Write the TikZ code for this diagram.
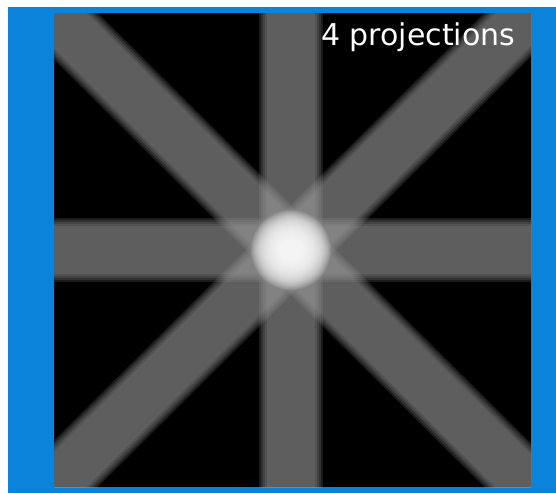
\documentclass[tikz,border=0pt]{standalone}
\usepackage{fontspec}
\newfontfamily\labelfont{DejaVu Sans}
\definecolor{frameblue}{RGB}{10,132,218}
\definecolor{bargray}{gray}{0.6}
\begin{document}
\begin{tikzpicture}[x=1pt,y=-1pt,
  bar/.style={draw=bargray, draw opacity=0.18, line cap=butt},
  glow/.style={fill=white, fill opacity=0.09}]
\useasboundingbox (0,0) rectangle (556,493);
\fill[white] (0,0) rectangle (556,493);
\fill[frameblue] (8,7) rectangle (556,493);
\fill[black] (54,13) rectangle (531,487);
\begin{scope}
\clip (54,13) rectangle (531,487);
\foreach \w in {64,60,56,52,48} {
  \draw[bar, line width=\w pt] (291,0) -- (291,500);
  \draw[bar, line width=\w pt] (40,250) -- (560,250);
  \draw[bar, line width=\w pt] (-9,-48) -- (591,548);
  \draw[bar, line width=\w pt] (591,-48) -- (-9,548);
}
\foreach \r in {40,39,...,6} {
  \fill[glow] (291,250) circle (\r);
}
\end{scope}
\node[anchor=base west, text=white, font=\labelfont\fontsize{30}{32}\selectfont, inner sep=0pt] (title) at (321,45) {4 projections};
\end{tikzpicture}
\end{document}
